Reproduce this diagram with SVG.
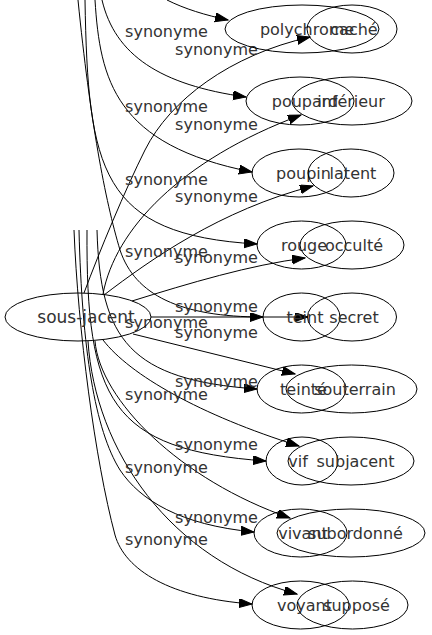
<svg xmlns="http://www.w3.org/2000/svg" width="432" height="635" viewBox="0 0 432 635">
<style>
.n ellipse{fill:none;stroke:#000;stroke-width:1}
.n text,.lbl{font-family:"DejaVu Sans",sans-serif;font-size:16px;fill:#333;text-anchor:middle}
#n-sous-jacent text{font-size:17px}
#edges path{fill:none;stroke:#000;stroke-width:1;marker-end:url(#ah)}
</style>
<defs>
<marker id="ah" markerUnits="userSpaceOnUse" markerWidth="14" markerHeight="10" refX="13" refY="4.5" orient="auto">
<path d="M0,0 L13,4.5 L0,9 z" fill="#000" stroke="#000" stroke-width="1"/>
</marker>
</defs>
<rect width="432" height="635" fill="#fff"/>
<g id="edges">
<path d="M167,0 C185,9 205,15 228,20"/>
<path d="M102,0 C115,55 160,85 246,97"/>
<path d="M95,0 C100,80 115,145 252,172"/>
<path d="M85,0 C88,170 100,235 257,244"/>
<path d="M78,0 C90,120 105,200 120,250 C135,295 180,317 263,317"/>
<path d="M97,230 C100,340 130,380 257,389"/>
<path d="M87,230 C86,400 110,450 266,461"/>
<path d="M79,230 C82,350 95,430 120,470 C140,500 180,525 254,532"/>
<path d="M74,230 C78,330 95,460 115,535 C125,570 170,598 252,604"/>
<path d="M84,293 C100,250 125,190 145,150 C170,100 230,55 310,37"/>
<path d="M103,294 C115,230 180,160 301,115"/>
<path d="M104,295 C150,260 220,210 313,186"/>
<path d="M132,301 C190,283 250,265 305,258"/>
<path d="M151,317 L308,317"/>
<path d="M133,334 L295,374"/>
<path d="M103,340 C130,375 200,415 299,446"/>
<path d="M95,341 C100,400 180,480 290,518"/>
<path d="M88,341 C95,450 170,560 297,594"/>
</g>
<g id="labels">
<text class="lbl" x="166.5" y="37">synonyme</text>
<text class="lbl" x="166.5" y="112">synonyme</text>
<text class="lbl" x="166.5" y="185">synonyme</text>
<text class="lbl" x="166.5" y="257">synonyme</text>
<text class="lbl" x="166.5" y="328">synonyme</text>
<text class="lbl" x="166.5" y="400">synonyme</text>
<text class="lbl" x="166.5" y="473">synonyme</text>
<text class="lbl" x="166.5" y="545">synonyme</text>
<text class="lbl" x="216.5" y="55">synonyme</text>
<text class="lbl" x="216.5" y="130">synonyme</text>
<text class="lbl" x="216.5" y="202">synonyme</text>
<text class="lbl" x="216.5" y="263">synonyme</text>
<text class="lbl" x="216.5" y="312">synonyme</text>
<text class="lbl" x="216.5" y="338">synonyme</text>
<text class="lbl" x="216.5" y="387">synonyme</text>
<text class="lbl" x="216.5" y="450">synonyme</text>
<text class="lbl" x="216.5" y="523">synonyme</text>
</g>
<g id="n-sous-jacent" class="n"><ellipse cx="78" cy="317" rx="73" ry="24"/><text x="86" y="322.5">sous-jacent</text></g>
<g id="n-polychrome" class="n"><ellipse cx="302" cy="29" rx="77" ry="24"/><text x="307" y="35">polychrome</text></g>
<g id="n-poupard" class="n"><ellipse cx="300" cy="101" rx="54" ry="24"/><text x="305" y="107">poupard</text></g>
<g id="n-poupin" class="n"><ellipse cx="299" cy="173" rx="47" ry="24"/><text x="303.5" y="179">poupin</text></g>
<g id="n-rouge" class="n"><ellipse cx="301.5" cy="245" rx="44.5" ry="24"/><text x="304" y="251">rouge</text></g>
<g id="n-teint" class="n"><ellipse cx="301.5" cy="317" rx="38.5" ry="24"/><text x="305" y="323">teint</text></g>
<g id="n-teinte" class="n"><ellipse cx="301.5" cy="389" rx="44.5" ry="24"/><text x="303.5" y="395">teinté</text></g>
<g id="n-vif" class="n"><ellipse cx="302" cy="461" rx="36" ry="24"/><text x="298" y="467">vif</text></g>
<g id="n-vivant" class="n"><ellipse cx="300.5" cy="533" rx="46.5" ry="24"/><text x="303" y="539">vivant</text></g>
<g id="n-voyant" class="n"><ellipse cx="300.5" cy="605" rx="48.5" ry="24"/><text x="304.5" y="611">voyant</text></g>
<g id="n-cache" class="n"><ellipse cx="352" cy="29" rx="45" ry="24"/><text x="354" y="35">caché</text></g>
<g id="n-inferieur" class="n"><ellipse cx="352" cy="101" rx="60" ry="24"/><text x="351" y="107">inférieur</text></g>
<g id="n-latent" class="n"><ellipse cx="351" cy="173" rx="43" ry="24"/><text x="353" y="179">latent</text></g>
<g id="n-occulte" class="n"><ellipse cx="352" cy="245" rx="52" ry="24"/><text x="354" y="251">occulté</text></g>
<g id="n-secret" class="n"><ellipse cx="352" cy="317" rx="44.5" ry="24"/><text x="354" y="323">secret</text></g>
<g id="n-souterrain" class="n"><ellipse cx="351.5" cy="389" rx="65.5" ry="24"/><text x="355" y="395">souterrain</text></g>
<g id="n-subjacent" class="n"><ellipse cx="351" cy="461" rx="63" ry="24"/><text x="355.5" y="467">subjacent</text></g>
<g id="n-subordonne" class="n"><ellipse cx="351" cy="533" rx="74" ry="24"/><text x="355.5" y="539">subordonné</text></g>
<g id="n-suppose" class="n"><ellipse cx="352.5" cy="605" rx="55.5" ry="24"/><text x="356.5" y="611">supposé</text></g>
</svg>
